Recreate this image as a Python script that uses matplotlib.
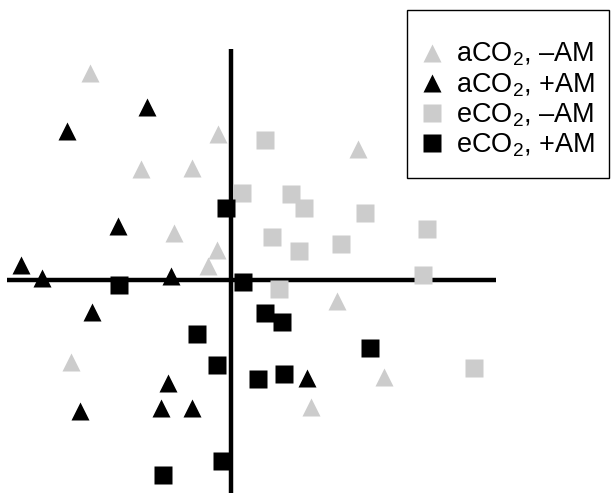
import numpy as np
import matplotlib
matplotlib.use('Agg')
import matplotlib.pyplot as plt
from matplotlib.patches import Rectangle

plt.rcParams['font.family'] = ['Liberation Sans', 'DejaVu Sans']
plt.rcParams['mathtext.fontset'] = 'custom'
plt.rcParams['mathtext.rm'] = 'Liberation Sans'
plt.rcParams['mathtext.it'] = 'Liberation Sans'

# ---------------- data (scores, origin at the crossing lines) ----------------
# aCO2, -AM (light triangles)
a_noam_x = [-141, -13, -90, -39, -57, -14, -23, 127, 106, 153, 80, -160]
a_noam_y = [207, 146, 111, 112, 47, 30, 14, 131, -21, -97, -127, -82]

# aCO2, +AM (black triangles)
a_am_x = [-84, -164, -113, -210, -189, -60, -139, -63, -151, -70, -39, 76]
a_am_y = [173, 149, 54, 15, 2, 4, -32, -103, -131, -128, -128, -98]

# eCO2, -AM (light squares)
e_noam_x = [34, 11, 60, 73, 134, 41, 68, 110, 196, 192, 48, 243]
e_noam_y = [140, 87, 86, 72, 67, 43, 29, 36, 51, 5, -9, -88]

# eCO2, +AM (black squares)
e_am_x = [-5, 12, -112, -34, 34, 51, -14, 139, 27, 53, -9, -68]
e_am_y = [72, -2, -5, -54, -33, -42, -85, -68, -99, -94, -181, -195]

labels = ['aCO$_\\mathrm{2}$, \u2013AM', 'aCO$_\\mathrm{2}$, +AM',
          'eCO$_\\mathrm{2}$, \u2013AM', 'eCO$_\\mathrm{2}$, +AM']

light = '#cccccc'

# ---------------- plot ----------------
W, H = 611, 494
fig = plt.figure(figsize=(W / 100, H / 100), dpi=100)
ax = fig.add_axes([0, 0, 1, 1])
ax.set_xlim(-231, 380)
ax.set_ylim(-214, 280)
ax.axis('off')

# crossing lines
ax.plot([-224, 265], [0, 0], color='black', lw=3.2, zorder=1, solid_capstyle='butt')
ax.plot([0, 0], [-213, 231], color='black', lw=3.2, zorder=1, solid_capstyle='butt')

ax.plot(a_noam_x, a_noam_y, ls='none', marker='^', ms=13, color=light, mec='none', label=labels[0], zorder=2)
ax.plot(a_am_x, a_am_y, ls='none', marker='^', ms=13, color='black', mec='none', label=labels[1], zorder=3)
ax.plot(e_noam_x, e_noam_y, ls='none', marker='s', ms=12.5, color=light, mec='none', label=labels[2], zorder=2)
ax.plot(e_am_x, e_am_y, ls='none', marker='s', ms=12.5, color='black', mec='none', label=labels[3], zorder=3)

# legend box
fig.patches.append(Rectangle((407 / W, 1 - 178 / H), 202 / W, 168 / H, transform=fig.transFigure,
                             fill=False, edgecolor='black', lw=1.0))

leg = ax.legend(loc='upper left', bbox_to_anchor=(421 / W, 1 - 41 / H),
                fontsize=19.5, frameon=False, borderpad=0,
                labelspacing=0.1, handlelength=0.8, handletextpad=0.49,
                borderaxespad=0, numpoints=1)

fig.savefig('out.png', dpi=100)
